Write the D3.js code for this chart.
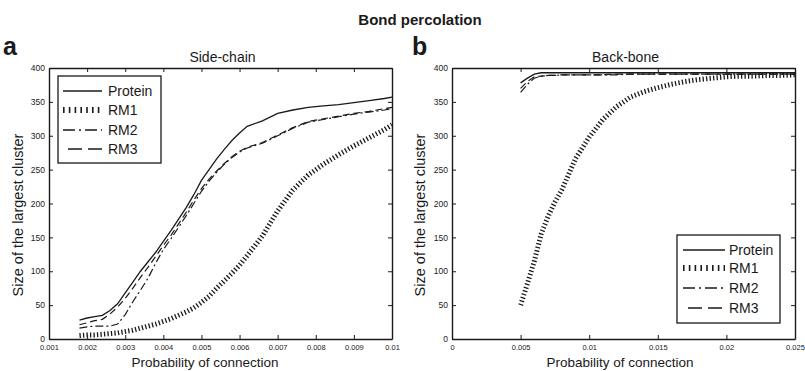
<!DOCTYPE html>
<html>
<head>
<meta charset="utf-8">
<script src="https://cdn.jsdelivr.net/npm/d3@7"></script>
<style>
  body { margin: 0; background: #fff; }
  svg text { fill: #1a1a1a; }
</style>
</head>
<body>
<svg id="chart" width="805" height="371"></svg>
<script>
// series names, in legend order
var seriesNames = ["Protein", "RM1", "RM2", "RM3"];

// panel a: side-chain
var sideX = [0.0018, 0.002, 0.0022, 0.0024, 0.0026, 0.0028, 0.003, 0.0032, 0.0034, 0.0036, 0.0038,
  0.004, 0.0042, 0.0044, 0.0046, 0.0048, 0.005, 0.0052, 0.0054, 0.0056, 0.0058, 0.006, 0.0062,
  0.0066, 0.007, 0.0074, 0.0078, 0.0082, 0.0086, 0.009, 0.0094, 0.0098, 0.01];
var sideProtein = [28, 31, 33, 35, 42, 52, 68, 84, 100, 114, 128, 144, 160, 177, 194, 213, 234, 250,
  266, 280, 293, 304, 314, 322, 333, 338, 342, 344, 346, 349, 352, 355, 357];
var sideRM1 = [5, 6, 6, 7, 8, 9, 11, 13, 16, 19, 22, 26, 30, 35, 40, 46, 54, 63, 75, 86, 97, 109,
  123, 152, 189, 220, 242, 258, 272, 285, 297, 309, 316];
var sideRM2 = [16, 18, 19, 19, 19, 22, 36, 55, 72, 90, 112, 132, 148, 165, 182, 200, 218, 233, 246,
  258, 268, 276, 282, 289, 300, 311, 320, 324, 328, 332, 335, 338, 340];
var sideRM3 = [21, 24, 27, 29, 37, 47, 60, 75, 91, 106, 122, 138, 153, 170, 187, 205, 222, 236, 248,
  259, 269, 277, 283, 290, 301, 312, 321, 325, 329, 333, 336, 340, 342];
var sideTicks = [0.001, 0.002, 0.003, 0.004, 0.005, 0.006, 0.007, 0.008, 0.009, 0.01];
var sideTickLabels = ["0.001", "0.002", "0.003", "0.004", "0.005", "0.006", "0.007", "0.008", "0.009", "0.01"];

// panel b: back-bone
var backX = [0.005, 0.0055, 0.006, 0.0065, 0.007, 0.0075, 0.008, 0.0085, 0.009, 0.0095, 0.01,
  0.011, 0.012, 0.013, 0.014, 0.015, 0.016, 0.017, 0.018, 0.019, 0.02, 0.021, 0.022, 0.023, 0.024, 0.025];
var backProtein = [378, 385, 391, 393, 393, 393, 393, 393, 393, 393, 393, 393, 393, 393, 393, 393,
  393, 393, 393, 393, 393, 393, 393, 393, 393, 393];
var backRM1 = [50, 82, 115, 155, 181, 202, 220, 243, 266, 282, 298, 324, 343, 357, 365, 371, 376,
  380, 383, 385, 387, 388, 388, 389, 389, 390];
var backRM2 = [364, 376, 385, 388, 389, 389, 390, 390, 390, 390, 390, 390, 390, 391, 391, 391, 391,
  391, 391, 391, 391, 391, 391, 391, 391, 391];
var backRM3 = [370, 380, 387, 388, 389, 389, 390, 390, 390, 390, 390, 390, 391, 391, 391, 391, 391,
  391, 391, 391, 391, 391, 391, 391, 391, 391];
var backTicks = [0, 0.005, 0.01, 0.015, 0.02, 0.025];
var backTickLabels = ["0", "0.005", "0.01", "0.015", "0.02", "0.025"];

var yTicks = [0, 50, 100, 150, 200, 250, 300, 350, 400];

var FONT = "'Liberation Sans', Arial, sans-serif";
var INK = "#1a1a1a";

// line look per series
var styles = {
  Protein: { width: 1.3, dash: null, legendDash: null },
  RM1: { width: 5, dash: "1.3,2.2", legendDash: "1.6,4.2" },
  RM2: { width: 1.2, dash: "8,3,2,3", legendDash: "12,4,2,4" },
  RM3: { width: 1.2, dash: "7,4", legendDash: "14,6" }
};

var svg = d3.select("#chart");

svg.append("text").attr("x", 420).attr("y", 25).attr("text-anchor", "middle")
  .style("font-family", FONT).style("font-size", "15px").style("font-weight", "bold")
  .text("Bond percolation");

function drawPanel(cfg) {
  var x = d3.scaleLinear().domain(cfg.domain).range([cfg.left, cfg.right]);
  var y = d3.scaleLinear().domain([0, 400]).range([339, 68]);
  var g = svg.append("g");

  // panel letter and subtitle
  g.append("text").attr("x", cfg.letterX).attr("y", 55)
    .style("font-family", FONT).style("font-size", "25px")
    .style("font-weight", "bold").text(cfg.letter);
  g.append("text").attr("x", (cfg.left + cfg.right) / 2 + 2).attr("y", 62).attr("text-anchor", "middle")
    .style("font-family", FONT).style("font-size", "14px").text(cfg.title);

  // axes with inward ticks on all four sides, matlab style
  var fmt = function(d, i) { return cfg.tickLabels[i]; };
  var bottom = d3.axisBottom(x).tickValues(cfg.ticks).tickFormat(fmt).tickSizeInner(-4).tickSizeOuter(0).tickPadding(6);
  var top = d3.axisTop(x).tickValues(cfg.ticks).tickFormat("").tickSizeInner(-4).tickSizeOuter(0);
  var leftAx = d3.axisLeft(y).tickValues(yTicks).tickSizeInner(-4).tickSizeOuter(0).tickPadding(4);
  var rightAx = d3.axisRight(y).tickValues(yTicks).tickFormat("").tickSizeInner(-4).tickSizeOuter(0);

  var axes = [
    g.append("g").attr("transform", "translate(0,339)").call(bottom),
    g.append("g").attr("transform", "translate(0,68)").call(top),
    g.append("g").attr("transform", "translate(" + cfg.left + ",0)").call(leftAx),
    g.append("g").attr("transform", "translate(" + cfg.right + ",0)").call(rightAx)
  ];
  axes.forEach(function(a) {
    a.selectAll("path").attr("stroke", INK).attr("stroke-width", 1.4);
    a.selectAll("line").attr("stroke", INK).attr("stroke-width", 1);
    a.selectAll("text").attr("fill", INK).style("font-family", FONT);
  });
  axes[0].selectAll("text").style("font-size", "7.5px");
  axes[2].selectAll("text").style("font-size", "8.5px");

  // axis titles
  g.append("text").attr("x", cfg.xLabelX).attr("y", 367).attr("text-anchor", "middle")
    .style("font-family", FONT).style("font-size", "13.5px").text("Probability of connection");
  g.append("text").attr("transform", "translate(" + cfg.yLabelX + ",215) rotate(-90)").attr("text-anchor", "middle")
    .style("font-family", FONT).style("font-size", "14.5px").text("Size of the largest cluster");

  // curves
  var line = d3.line().x(function(d) { return x(d[0]); }).y(function(d) { return y(d[1]); });
  seriesNames.forEach(function(name, i) {
    var pts = cfg.xs.map(function(v, j) { return [v, cfg.series[i][j]]; });
    var st = styles[name];
    g.append("path").datum(pts).attr("d", line)
      .attr("fill", "none").attr("stroke", INK).attr("stroke-width", st.width)
      .attr("stroke-dasharray", st.dash);
  });

  // legend
  var lg = cfg.legend;
  g.append("rect").attr("x", lg.x).attr("y", lg.y).attr("width", lg.w).attr("height", lg.h)
    .attr("fill", "#fff").attr("stroke", INK).attr("stroke-width", 1.3);
  seriesNames.forEach(function(name, i) {
    var st = styles[name];
    var ry = lg.rows[i];
    g.append("line").attr("x1", name === "RM3" ? lg.x1 + 5 : lg.x1).attr("x2", lg.x2)
      .attr("y1", ry).attr("y2", ry)
      .attr("stroke", INK).attr("stroke-width", name === "RM1" ? 6 : 1.3)
      .attr("stroke-dasharray", st.legendDash);
    g.append("text").attr("x", lg.tx).attr("y", ry + 5)
      .style("font-family", FONT).style("font-size", "14px").text(name);
  });
}

drawPanel({
  letter: "a", letterX: 3, title: "Side-chain",
  domain: [0.001, 0.01], left: 49, right: 392,
  ticks: sideTicks, tickLabels: sideTickLabels,
  xs: sideX, series: [sideProtein, sideRM1, sideRM2, sideRM3],
  xLabelX: 205, yLabelX: 23,
  legend: { x: 58, y: 76, w: 103, h: 87, rows: [91, 110, 130, 149], x1: 63, x2: 102, tx: 108 }
});

drawPanel({
  letter: "b", letterX: 412, title: "Back-bone",
  domain: [0, 0.025], left: 452, right: 795,
  ticks: backTicks, tickLabels: backTickLabels,
  xs: backX, series: [backProtein, backRM1, backRM2, backRM3],
  xLabelX: 620, yLabelX: 425,
  legend: { x: 677, y: 235, w: 103, h: 88, rows: [250, 268, 288, 308], x1: 683, x2: 725, tx: 729 }
});
</script>
</body>
</html>
